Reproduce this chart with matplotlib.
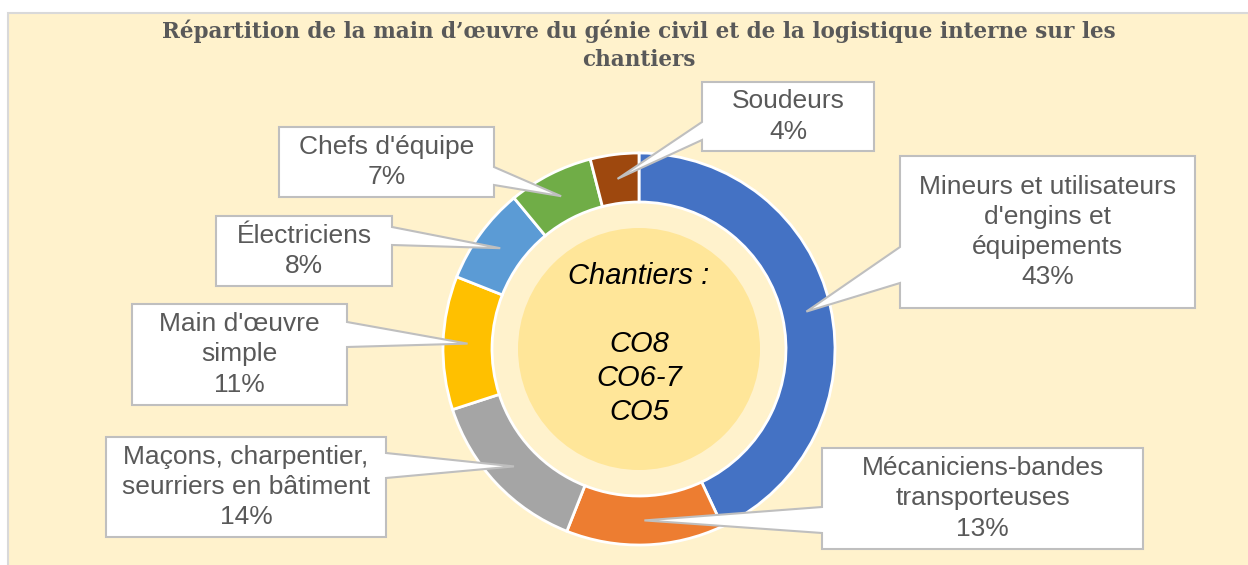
import numpy as np
import matplotlib
matplotlib.use('Agg')
import matplotlib.pyplot as plt
from matplotlib.patches import Rectangle, Circle, Polygon

# data
labels = ["Mineurs et utilisateurs\nd'engins et\néquipements",
          "Mécaniciens-bandes\ntransporteuses",
          "Maçons, charpentier,\nseurriers en bâtiment",
          "Main d'œuvre\nsimple",
          "Électriciens",
          "Chefs d'équipe",
          "Soudeurs"]
values = [43, 13, 14, 11, 8, 7, 4]
colors = ['#4472C4', '#ED7D31', '#A5A5A5', '#FFC000', '#5B9BD5', '#70AD47', '#9E480E']

title = "Répartition de la main d’œuvre du génie civil et de la logistique interne sur les\nchantiers"
center_text = "Chantiers :\n\nCO8\nCO6-7\nCO5"

# layout (pixels, y measured from top): box x0, y0, x1, y1, pointer side, base y0, base y1
boxes = [
    (900, 156, 1195, 308, 'left', 247, 283),
    (822, 448, 1143, 549, 'left', 507, 533),
    (106, 437, 386, 537, 'right', 453, 478),
    (132, 304, 347, 405, 'right', 322, 347),
    (216, 216, 392, 286, 'right', 227, 245),
    (279, 127, 494, 197, 'right', 167, 185),
    (702, 82, 874, 151, 'left', 122, 140),
]

W, H = 1248, 565
cx, cy = 639, H - 349
R, ring = 196, 49

fig = plt.figure(figsize=(W / 100, H / 100), dpi=100)
fig.patch.set_facecolor('white')
ax = fig.add_axes([0, 0, 1, 1])

ax.add_patch(Rectangle((8, -5), W, H - 13 + 5, facecolor='#FFF2CC',
                       edgecolor='#D9D9D9', lw=1.5, zorder=0))

ax.pie(values, colors=colors, startangle=90, counterclock=False,
       center=(cx, cy), radius=R,
       wedgeprops=dict(width=ring, edgecolor='white', linewidth=2))
ax.add_patch(Circle((cx, cy), 121, facecolor='#FFE699', edgecolor='none', zorder=2))

ax.text(cx, cy + 5, center_text, ha='center', va='center', fontsize=21,
        style='italic', family='Liberation Sans', color='black', zorder=3,
        linespacing=1.27)

ax.text(cx, H - 45, title, ha='center', va='center', fontsize=15.5,
        family='DejaVu Serif', weight='bold', color='#595959', linespacing=1.35)

cum = 0
for lab, v, b in zip(labels, values, boxes):
    ang = np.deg2rad(90 - 360 * (cum + v / 2) / 100)
    cum += v
    tx = cx + (R - ring / 2) * np.cos(ang)
    ty = cy + (R - ring / 2) * np.sin(ang)
    x0, y0, x1, y1, side, b0, b1 = b
    top, bot = H - y0, H - y1
    if side == 'right':
        pts = [(x0, bot), (x1, bot), (x1, H - b1), (tx, ty), (x1, H - b0), (x1, top), (x0, top)]
    else:
        pts = [(x0, bot), (x1, bot), (x1, top), (x0, top), (x0, H - b0), (tx, ty), (x0, H - b1)]
    ax.add_patch(Polygon(pts, closed=True, facecolor='white', edgecolor='#BFBFBF',
                         lw=1.5, zorder=4))
    ax.text((x0 + x1) / 2, (top + bot) / 2, f"{lab}\n{v}%", ha='center', va='center',
            fontsize=19, family='Liberation Sans', color='#595959', zorder=5,
            linespacing=1.32)

ax.set_xlim(0, W)
ax.set_ylim(0, H)
ax.set_aspect('auto')
ax.axis('off')

fig.savefig('out.png', dpi=100, facecolor=fig.get_facecolor())
